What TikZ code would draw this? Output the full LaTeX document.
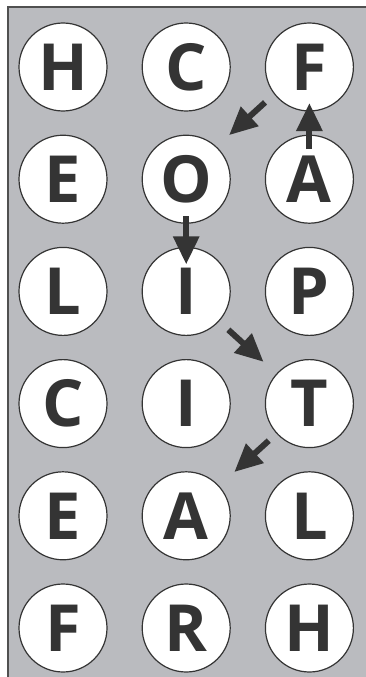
\documentclass[tikz,border=0pt]{standalone}
\usepackage{fontspec}
\setmainfont{Open Sans}
\usepackage{xcolor}
\usepackage{tikz}
\usetikzlibrary{arrows.meta, positioning}
\definecolor{mygrey}{RGB}{186,187,191}
\definecolor{mydark}{RGB}{52,52,52}
\definecolor{myframe}{RGB}{80,80,80}
\tikzset{
  letter/.style={circle, draw=mydark, fill=white, minimum size=88pt,
    inner sep=0pt, line width=1.2pt, text=mydark,
    font=\fontsize{65}{65}\selectfont\bfseries},
  arrow/.style={-{Triangle[width=25pt 0, length=28pt 0]}, line width=6pt, color=mydark}
}

\begin{document}
\begin{tikzpicture}[
  node distance=23pt and 34pt
]
  \useasboundingbox (0,0) rectangle (366pt,-677pt);
  \fill[mygrey] (8pt,-7pt) rectangle (372pt,-684pt);
  \draw[myframe, line width=2pt] (8pt,-684pt) -- (8pt,-7pt) -- (372pt,-7pt);

  % first row, the rest hang below
  \node[letter] (h1) at (63pt,-67pt) {H};
  \node[letter, right=of h1] (c1) {C};
  \node[letter, right=of c1] (f1) {F};

  \node[letter, below=of h1] (e2) {E};
  \node[letter, below=of c1] (o2) {O};
  \node[letter, below=of f1] (a2) {A};

  \node[letter, below=of e2] (l3) {L};
  \node[letter, below=of o2] (i3) {I};
  \node[letter, below=of a2] (p3) {P};

  \node[letter, below=of l3] (c4) {C};
  \node[letter, below=of i3] (i4) {I};
  \node[letter, below=of p3] (t4) {T};

  \node[letter, below=of c4] (e5) {E};
  \node[letter, below=of i4] (a5) {A};
  \node[letter, below=of t4] (l5) {L};

  \node[letter, below=of e5] (f6) {F};
  \node[letter, below=of a5] (r6) {R};
  \node[letter, below=of l5] (h6) {H};

  % path through the grid
  \draw[arrow, shorten <=30pt, shorten >=36pt] (a2.center) -- (f1.center);
  \draw[arrow, shorten <=60pt, shorten >=58pt] ([yshift=5pt]f1.center) -- ([yshift=5pt]o2.center);
  \draw[arrow, shorten <=37pt, shorten >=27pt] (o2.center) -- (i3.center);
  \draw[arrow, shorten <=57pt, shorten >=62pt] (i3.center) -- (t4.center);
  \draw[arrow, shorten <=55pt, shorten >=65pt] (t4.center) -- (a5.center);
\end{tikzpicture}
\end{document}
